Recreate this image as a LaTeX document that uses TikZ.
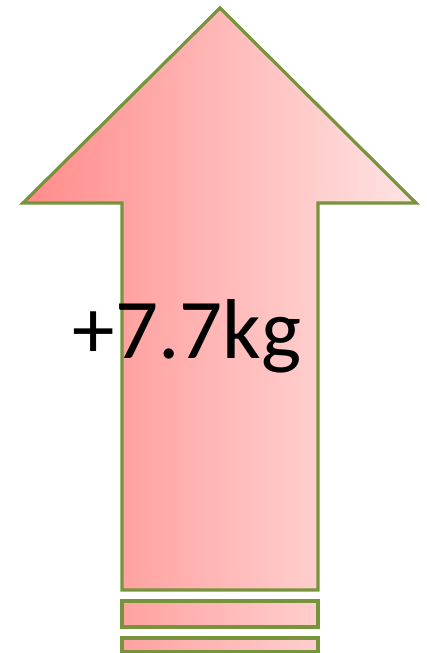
\documentclass[tikz,border=0pt]{standalone}
\usepackage{fontspec}
\setmainfont{Carlito}
\definecolor{olivebordo}{RGB}{119,147,60}
\definecolor{rossoscuro}{RGB}{255,140,138}
\definecolor{rossochiaro}{RGB}{255,228,228}
\definecolor{barsx}{RGB}{255,162,160}
\definecolor{bardx}{RGB}{255,206,206}
\tikzset{
  bordo/.style={draw=olivebordo, line width=3.2pt, line join=miter},
  freccia/.style={bordo, left color=rossoscuro, right color=rossochiaro},
  barra/.style={bordo, left color=barsx, right color=bardx}
}
\begin{document}
\begin{tikzpicture}[x=1pt,y=-1pt]
        \useasboundingbox (0,0) rectangle (426,653);

        %freccia grande
        \draw[freccia] (220,8)--(416,203)--++(-98,0)--++(0,387)
         --++(-196,0)--++(0,-387)--(23,203)--cycle;

        %barrette sotto
        \draw[barra] (122,601) rectangle ++(196,26);
        \draw[barra] (122,638) rectangle ++(196,14);

        %label peso
        \node (peso) at (187,358) [anchor=base]{\fontsize{85}{100}\selectfont +7.7kg};

    \end{tikzpicture}
\end{document}
